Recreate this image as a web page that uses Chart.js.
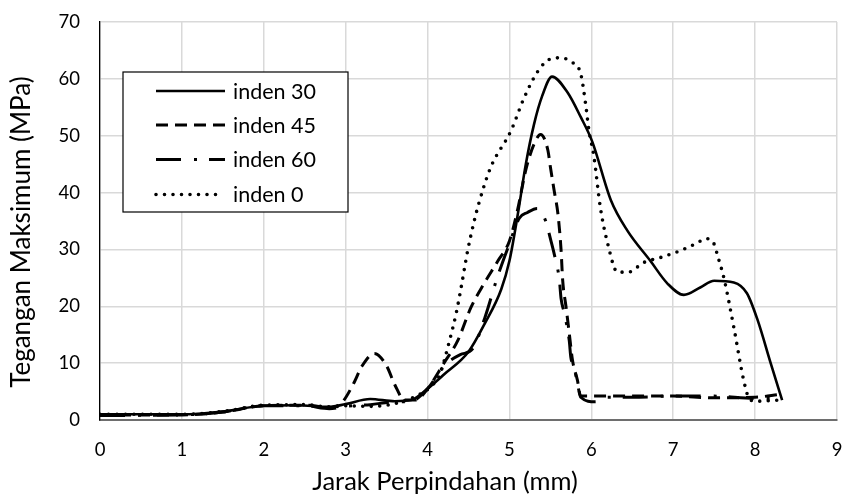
<!DOCTYPE html>
<html>
<head>
<meta charset="utf-8">
<script src="https://cdn.jsdelivr.net/npm/chart.js@4.4.1/dist/chart.umd.min.js"></script>
<style>
  html, body { margin: 0; padding: 0; background: #fff; }
</style>
</head>
<body>
<canvas id="chart" width="843" height="495"></canvas>
<script>
// values
const xTicks = [0, 1, 2, 3, 4, 5, 6, 7, 8, 9];
const yTicks = [0, 10, 20, 30, 40, 50, 60, 70];
const seriesNames = ['inden 30', 'inden 45', 'inden 60', 'inden 0'];
const xTitle = 'Jarak Perpindahan (mm)';
const yTitle = 'Tegangan Maksimum (MPa)';

const inden30X = [0, 0.5, 1.0, 1.5, 2.0, 2.4, 2.8, 3.0, 3.3, 3.6, 3.8, 4.0, 4.2, 4.5, 4.7, 4.9, 5.0, 5.1, 5.2, 5.3, 5.4, 5.52, 5.71, 5.87, 6.01, 6.24, 6.44, 6.72, 6.93, 7.13, 7.33, 7.5, 7.74, 7.9, 8.03, 8.19, 8.33];
const inden30Y = [1.0, 1.0, 1.0, 1.5, 2.5, 2.6, 2.3, 2.8, 3.7, 3.3, 3.5, 5.5, 8.0, 12.0, 17.0, 23.0, 28.0, 36.0, 45.0, 52.0, 57.0, 60.4, 57.6, 53.3, 49.0, 38.6, 33.3, 28.0, 24.0, 22.0, 23.3, 24.5, 24.2, 22.3, 17.6, 10.0, 3.5];

const inden45X = [0, 1.0, 1.5, 2.0, 2.5, 2.8, 2.95, 3.1, 3.2, 3.35, 3.5, 3.6, 3.72, 3.85, 4.0, 4.2, 4.37, 4.53, 4.69, 4.86, 5.0, 5.1, 5.2, 5.3, 5.38, 5.47, 5.5, 5.55, 5.59, 5.63, 5.65, 5.69, 5.73, 5.77, 5.83, 5.87, 6.0, 6.5, 7.0, 7.5, 8.0, 8.3];
const inden45Y = [0.9, 0.9, 1.4, 2.5, 2.6, 2.2, 3.0, 6.5, 9.5, 11.7, 9.5, 6.2, 3.5, 3.5, 5.5, 10.0, 14.0, 19.8, 24.0, 28.0, 31.5, 37.0, 44.0, 48.5, 50.2, 47.4, 44.5, 40.0, 36.5, 30.0, 24.6, 20.0, 15.3, 10.5, 7.0, 4.2, 4.2, 4.2, 4.2, 3.9, 4.0, 4.5];

const inden60X = [0, 1.0, 1.5, 2.0, 2.5, 2.8, 3.0, 3.3, 3.6, 3.8, 4.0, 4.2, 4.4, 4.55, 4.7, 4.85, 5.0, 5.12, 5.22, 5.34, 5.44, 5.5, 5.55, 5.61, 5.63, 5.67, 5.73, 5.75, 5.79, 5.83, 5.87, 6.05, 6.2, 6.5, 7.0, 7.5, 8.0, 8.3];
const inden60Y = [0.8, 0.9, 1.4, 2.5, 2.5, 2.0, 2.4, 2.7, 3.2, 3.3, 5.5, 9.5, 11.5, 12.5, 18.0, 25.0, 31.0, 35.5, 36.5, 37.2, 35.1, 31.9, 29.0, 24.6, 21.4, 18.8, 14.0, 11.0, 9.3, 6.5, 4.0, 3.2, 4.0, 4.0, 4.2, 4.2, 3.8, 3.8];

const inden0X = [0, 1.0, 1.5, 2.0, 2.5, 2.8, 3.0, 3.3, 3.5, 3.7, 3.9, 4.05, 4.15, 4.26, 4.35, 4.41, 4.49, 4.57, 4.63, 4.77, 5.02, 5.18, 5.35, 5.5, 5.63, 5.75, 5.87, 5.93, 5.97, 6.03, 6.11, 6.2, 6.32, 6.45, 6.64, 6.85, 7.09, 7.3, 7.39, 7.49, 7.55, 7.62, 7.74, 7.86, 7.92, 8.0, 8.3];
const inden0Y = [1.0, 1.0, 1.5, 2.6, 2.7, 2.3, 2.5, 2.4, 2.6, 3.3, 4.5, 6.0, 8.0, 13.5, 18.8, 23.3, 29.8, 35.0, 38.3, 44.4, 50.9, 56.7, 61.4, 63.5, 63.7, 63.0, 60.9, 55.6, 51.0, 46.5, 37.4, 31.0, 26.0, 26.0, 27.7, 28.6, 29.8, 31.2, 31.9, 31.2, 28.5, 24.9, 16.3, 7.0, 4.0, 3.3, 3.5];

const toPoints = (xs, ys) => xs.map((x, i) => ({ x, y: ys[i] }));

const lineStyles = [
    { dash: [], cap: 'butt', width: 2.6 },
    { dash: [12, 7], cap: 'butt', width: 3 },
    { dash: [25, 13, 3, 12], cap: 'butt', width: 3 },
    { dash: [0, 8.5], cap: 'round', width: 3.6 },
];

const seriesData = [
    toPoints(inden30X, inden30Y),
    toPoints(inden45X, inden45Y),
    toPoints(inden60X, inden60Y),
    toPoints(inden0X, inden0Y),
];

const datasets = seriesNames.map((name, i) => ({
    label: name,
    data: seriesData[i],
    showLine: true,
    borderColor: '#000',
    backgroundColor: '#000',
    borderWidth: lineStyles[i].width,
    borderDash: lineStyles[i].dash,
    borderCapStyle: lineStyles[i].cap,
    borderJoinStyle: 'round',
    pointRadius: 0,
    pointHoverRadius: 0,
    cubicInterpolationMode: 'monotone',
    fill: false,
}));

const FONT = 'Lato, "Liberation Sans", sans-serif';

// legend box inside the plot + axis titles placed like the reference
const boxLegend = {
    id: 'boxLegend',
    afterDraw(chart) {
        const ctx = chart.ctx;
        const box = { left: 123, top: 72, width: 225, height: 140 };
        const rowY = [91, 125, 159.5, 194.5];
        ctx.save();
        ctx.fillStyle = '#fff';
        ctx.fillRect(box.left, box.top, box.width, box.height);
        ctx.strokeStyle = '#000';
        ctx.lineWidth = 1.2;
        ctx.strokeRect(box.left, box.top, box.width, box.height);
        seriesNames.forEach((name, i) => {
            const st = lineStyles[i];
            ctx.beginPath();
            ctx.setLineDash(st.dash);
            ctx.lineCap = st.cap;
            ctx.lineWidth = st.width;
            const x0 = 156;
            const x1 = i === 3 ? 218 : 225;
            ctx.moveTo(x0, rowY[i]);
            ctx.lineTo(x1, rowY[i]);
            ctx.stroke();
            ctx.setLineDash([]);
            ctx.fillStyle = '#000';
            ctx.font = '21.5px ' + FONT;
            ctx.textBaseline = 'middle';
            ctx.textAlign = 'left';
            ctx.fillText(name, 233, rowY[i] + 1);
        });

        ctx.fillStyle = '#000';
        ctx.font = '25.5px ' + FONT;
        ctx.textAlign = 'center';
        ctx.textBaseline = 'alphabetic';
        ctx.fillText(xTitle, 445, 490);

        ctx.translate(30, 232);
        ctx.rotate(-Math.PI / 2);
        ctx.font = '26px ' + FONT;
        ctx.fillText(yTitle, 0, 0);
        ctx.restore();
    }
};

new Chart(document.getElementById('chart').getContext('2d'), {
    type: 'scatter',
    data: { datasets },
    options: {
        responsive: false,
        animation: false,
        devicePixelRatio: 1,
        layout: { padding: { top: 22, right: 6, left: 0, bottom: 0 } },
        plugins: {
            legend: { display: false },
            tooltip: { enabled: false },
        },
        scales: {
            x: {
                type: 'linear',
                min: xTicks[0],
                max: xTicks[xTicks.length - 1],
                afterBuildTicks: (s) => { s.ticks = xTicks.map(v => ({ value: v })); },
                afterFit: (s) => { s.height = 75; s.paddingLeft = 0; s.paddingRight = 0; },
                grid: { color: '#d9d9d9', lineWidth: 1.5, drawTicks: false },
                border: { color: '#6e6e6e', width: 2 },
                ticks: {
                    color: '#000',
                    padding: 19,
                    font: { family: FONT, size: 18.5 },
                },
            },
            y: {
                type: 'linear',
                min: yTicks[0],
                max: yTicks[yTicks.length - 1],
                afterBuildTicks: (s) => { s.ticks = yTicks.map(v => ({ value: v })); },
                afterFit: (s) => { s.width = 100; s.paddingTop = 0; s.paddingBottom = 0; },
                grid: { color: '#d9d9d9', lineWidth: 1.5, drawTicks: false },
                border: { color: '#000', width: 1.3 },
                ticks: {
                    color: '#000',
                    padding: 20,
                    font: { family: FONT, size: 18.5 },
                },
            },
        },
    },
    plugins: [boxLegend],
});
</script>
</body>
</html>
